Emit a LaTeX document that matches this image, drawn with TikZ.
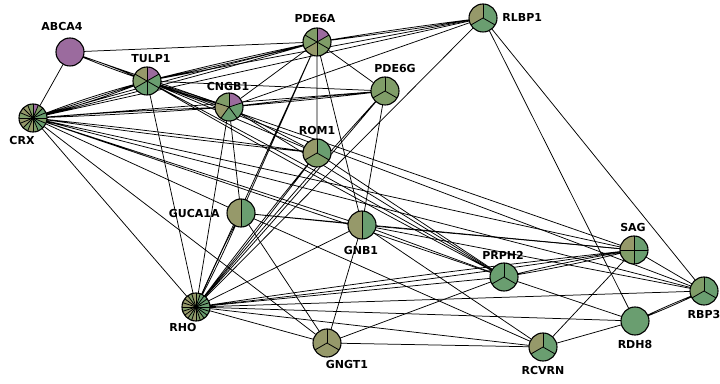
\documentclass[tikz,border=0pt]{standalone}
\usepackage{fontspec}
\setsansfont{DejaVu Sans}
\usepackage{tikz}
\usetikzlibrary{positioning}
\definecolor{genepurple}{RGB}{155,107,158}
\definecolor{geneolive}{RGB}{150,153,106}
\definecolor{genemoss}{RGB}{128,157,104}
\definecolor{genegreen}{RGB}{106,158,112}
\tikzset{
    gene/.style={
        circle,
        minimum size=28pt,
        inner sep=0pt
    },
    lbl/.style={
        font=\sffamily\bfseries\fontsize{11}{12}\selectfont,
        inner sep=0pt
    },
    link/.style={line width=0.75pt, black},
    rim/.style={line width=1.1pt, black},
    cut/.style={line width=0.8pt, black}
}
% pie chart drawn over a gene node, slices clockwise from the top
\newcommand{\genepie}[2]{%
    \foreach \slicecol [count=\n] in {#2} {\xdef\piecount{\n}}%
    \foreach \slicecol [count=\k] in {#2} {%
        \pgfmathsetmacro\pa{90-360*(\k-1)/\piecount}%
        \pgfmathsetmacro\pb{90-360*\k/\piecount}%
        \fill[\slicecol] (#1.center) -- ++(\pa:14pt)
            arc[start angle=\pa, end angle=\pb, radius=14pt] -- cycle;
    }%
    \ifnum\piecount>1\relax
        \foreach \k in {1,...,\piecount} {%
            \draw[cut] (#1.center) -- ++({90-360*(\k-1)/\piecount}:14pt);
        }%
    \fi
    \draw[rim] (#1.center) circle[radius=14pt];
}
\begin{document}
\begin{tikzpicture}[x=1pt, y=1pt]
\useasboundingbox (0,0) rectangle (720,383);

\node[gene] (abca4) at (70,331) {};
\node[gene] (tulp1) at (147,302) {};
\node[gene] (cngb1) at (229,276) {};
\node[gene] (crx) at (33,265) {};
\node[gene] (pde6a) at (317,341) {};
\node[gene] (pde6g) at (385,292) {};
\node[gene] (rlbp1) at (483,365) {};
\node[gene] (rom1) at (317,230) {};
\node[gene] (guca1a) at (241,170) {};
\node[gene] (gnb1) at (362,158) {};
\node[gene] (prph2) at (504,106) {};
\node[gene] (sag) at (634,133) {};
\node[gene] (rbp3) at (704,92) {};
\node[gene] (rdh8) at (635,62) {};
\node[gene] (rcvrn) at (543,36) {};
\node[gene] (gngt1) at (327,40) {};
\node[gene] (rho) at (196,76) {};

\node[lbl, above=7pt of abca4, xshift=-8pt] {ABCA4};
\node[lbl, above=4pt of tulp1, xshift=4pt] {TULP1};
\node[lbl, above=2pt of cngb1, xshift=-1pt] {CNGB1};
\node[lbl, below=4pt of crx, xshift=-11pt] {CRX};
\node[lbl, above=5pt of pde6a, xshift=-2pt] {PDE6A};
\node[lbl, above=4pt of pde6g, xshift=10pt] {PDE6G};
\node[lbl, right=5pt of rlbp1, yshift=1pt] {RLBP1};
\node[lbl, above=4pt of rom1] {ROM1};
\node[lbl, left=7pt of guca1a] {GUCA1A};
\node[lbl, below=7pt of gnb1, xshift=-1pt] {GNB1};
\node[lbl, above=3pt of prph2, xshift=-1pt] {PRPH2};
\node[lbl, above=4pt of sag, xshift=-1pt] {SAG};
\node[lbl, below=5pt of rbp3] {RBP3};
\node[lbl, below=5pt of rdh8] {RDH8};
\node[lbl, below=5pt of rcvrn] {RCVRN};
\node[lbl, below=3pt of gngt1, xshift=20pt] {GNGT1};
\node[lbl, below=2pt of rho, xshift=-13pt] {RHO};

% interactions
\draw[link] (abca4) -- (crx) (abca4) -- (cngb1) (abca4) -- (pde6a)
    (abca4.center) to[bend left=2] (tulp1.center) (abca4.center) to[bend right=2] (tulp1.center);
\draw[link] (crx) -- (tulp1)
    (crx.center) to[bend left=3] (tulp1.center) (crx.center) to[bend right=3] (tulp1.center)
    (crx.center) to[bend left=1] (cngb1.center) (crx.center) to[bend right=1] (cngb1.center)
    (crx.center) to[bend left=1] (pde6a.center) (crx.center) to[bend right=1] (pde6a.center)
    (crx) -- (rlbp1) (crx) -- (pde6g)
    (crx.center) to[bend left=1] (rom1.center) (crx.center) to[bend right=1] (rom1.center)
    (crx) -- (guca1a) (crx) -- (gnb1) (crx) -- (prph2) (crx) -- (sag)
    (crx) -- (rbp3) (crx) -- (rho) (crx) -- (gngt1);
\draw[link] (tulp1.center) to[bend left=1.5] (cngb1.center) (tulp1.center) to[bend right=1.5] (cngb1.center)
    (tulp1.center) to[bend left=1] (pde6a.center) (tulp1.center) to[bend right=1] (pde6a.center)
    (tulp1) -- (rlbp1) (tulp1) -- (pde6g) (tulp1) -- (rom1)
    (tulp1.center) to[bend left=1] (prph2.center) (tulp1.center) to[bend right=1] (prph2.center)
    (tulp1) -- (sag) (tulp1) -- (rbp3) (tulp1) -- (rho);
\draw[link] (cngb1) -- (pde6a) (cngb1) -- (rlbp1)
    (cngb1.center) to[bend left=1] (pde6g.center) (cngb1.center) to[bend right=1] (pde6g.center)
    (cngb1) -- (rom1) (cngb1) -- (guca1a) (cngb1) -- (prph2) (cngb1) -- (rho);
\draw[link] (pde6a) -- (pde6g) (pde6a) -- (rom1) (pde6a) -- (guca1a) (pde6a) -- (gnb1)
    (pde6a) -- (rho)
    (pde6a.center) to[bend left=1] (rlbp1.center) (pde6a.center) to[bend right=1] (rlbp1.center);
\draw[link] (pde6g) -- (gnb1)
    (pde6g.center) to[bend left=1] (rho.center) (pde6g.center) to[bend right=1] (rho.center);
\draw[link] (rlbp1) -- (rho) (rlbp1) -- (rdh8) (rlbp1) -- (rbp3);
\draw[link] (rom1.center) to[bend left=1] (rho.center) (rom1.center) to[bend right=1] (rho.center)
    (rom1) -- (prph2);
\draw[link] (guca1a.center) to[bend left=2] (rho.center) (guca1a.center) to[bend right=2] (rho.center)
    (guca1a) -- (gnb1) (guca1a) -- (gngt1) (guca1a) -- (rcvrn) (guca1a) -- (sag);
\draw[link] (gnb1) -- (rho) (gnb1) -- (gngt1) (gnb1) -- (sag) (gnb1) -- (rcvrn)
    (gnb1) -- (rbp3) (gnb1) -- (prph2);
\draw[link] (prph2) -- (rho)
    (prph2.center) to[bend left=2] (sag.center) (prph2.center) to[bend right=2] (sag.center)
    (prph2) -- (gngt1) (prph2) -- (rdh8);
\draw[link] (sag.center) to[bend left=1] (rho.center) (sag.center) to[bend right=1] (rho.center)
    (sag) -- (rcvrn) (sag) -- (rbp3);
\draw[link] (rho) -- (rdh8) (rho) -- (rbp3) (rho) -- (rcvrn) (rho) -- (gngt1);
\draw[link] (gngt1) -- (rcvrn) (rcvrn) -- (rdh8)
    (rdh8.center) to[bend left=2] (rbp3.center) (rdh8.center) to[bend right=2] (rbp3.center);

% gene pies
\genepie{abca4}{genepurple}
\genepie{tulp1}{genepurple,genegreen,genegreen,genegreen,genemoss,geneolive}
\genepie{cngb1}{genepurple,genegreen,genegreen,geneolive,genemoss}
\genepie{crx}{genepurple,genemoss,genegreen,genegreen,genemoss,genegreen,genegreen,genemoss,
    geneolive,genemoss,geneolive,geneolive,genemoss,geneolive,geneolive,genemoss}
\genepie{pde6a}{genepurple,genemoss,genemoss,geneolive,genemoss,genemoss}
\genepie{pde6g}{genemoss,genemoss,genemoss}
\genepie{rlbp1}{genegreen,genegreen,geneolive}
\genepie{rom1}{genegreen,genemoss,geneolive}
\genepie{guca1a}{genegreen,geneolive}
\genepie{gnb1}{genegreen,geneolive}
\genepie{prph2}{genegreen,genegreen,genegreen}
\genepie{sag}{genegreen,genegreen,genemoss,geneolive}
\genepie{rbp3}{genegreen,genegreen,genemoss}
\genepie{rdh8}{genegreen}
\genepie{rcvrn}{genegreen,genegreen,geneolive}
\genepie{gngt1}{geneolive,geneolive,geneolive}
\genepie{rho}{genemoss,genegreen,genegreen,genegreen,genegreen,genegreen,genegreen,genegreen,
    genemoss,genemoss,geneolive,genemoss,geneolive,geneolive,genemoss,geneolive,
    geneolive,geneolive,genemoss,geneolive}

\end{tikzpicture}
\end{document}
